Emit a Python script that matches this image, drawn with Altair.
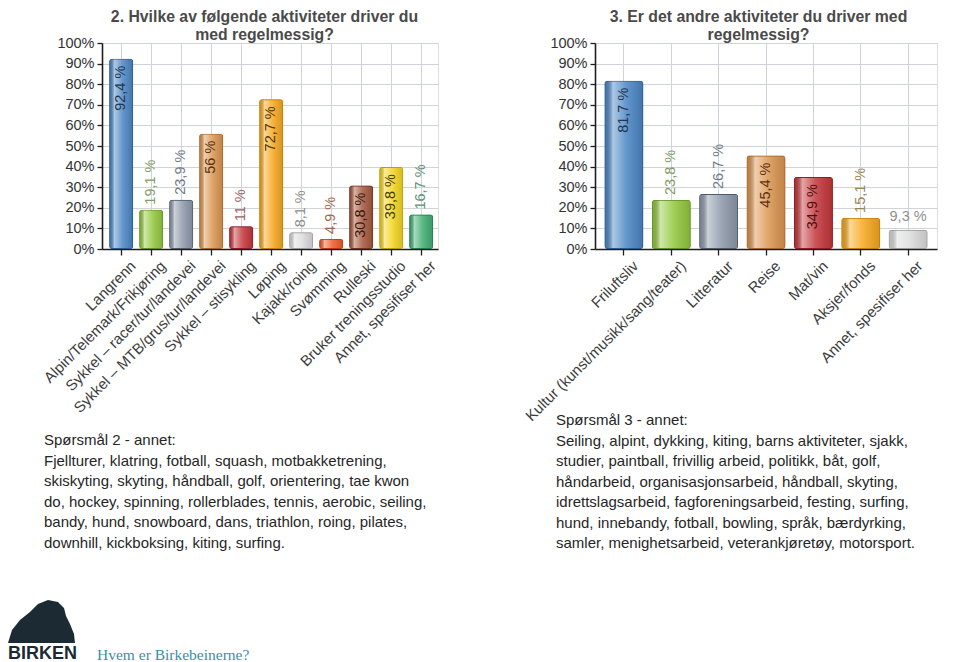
import altair as alt
import pandas as pd

# ---------------- data ----------------
q2_activities = [
    "Langrenn",
    "Alpin/Telemark/Frikjøring",
    "Sykkel – racer/tur/landevei",
    "Sykkel – MTB/grus/tur/landevei",
    "Sykkel – stisykling",
    "Løping",
    "Kajakk/roing",
    "Svømming",
    "Rulleski",
    "Bruker treningsstudio",
    "Annet, spesifiser her",
]
q2_percent = [92.4, 19.1, 23.9, 56, 11, 72.7, 8.1, 4.9, 30.8, 39.8, 16.7]

q3_activities = [
    "Friluftsliv",
    "Kultur (kunst/musikk/sang/teater)",
    "Litteratur",
    "Reise",
    "Mat/vin",
    "Aksjer/fonds",
    "Annet, spesifiser her",
]
q3_percent = [81.7, 23.8, 26.7, 45.4, 34.9, 15.1, 9.3]

y_ticks = [0, 10, 20, 30, 40, 50, 60, 70, 80, 90, 100]

q2_title = ["2. Hvilke av følgende aktiviteter driver du", "med regelmessig?"]
q3_title = ["3. Er det andre aktiviteter du driver med", "regelmessig?"]

q2_note = [
    "Spørsmål 2 - annet:",
    "Fjellturer, klatring, fotball, squash, motbakketrening,",
    "skiskyting, skyting, håndball, golf, orientering, tae kwon",
    "do, hockey, spinning, rollerblades, tennis, aerobic, seiling,",
    "bandy, hund, snowboard, dans, triathlon, roing, pilates,",
    "downhill, kickboksing, kiting, surfing.",
]
q3_note = [
    "Spørsmål 3 - annet:",
    "Seiling, alpint, dykking, kiting, barns aktiviteter, sjakk,",
    "studier, paintball, frivillig arbeid, politikk, båt, golf,",
    "håndarbeid, organisasjonsarbeid, håndball, skyting,",
    "idrettslagsarbeid, fagforeningsarbeid, festing, surfing,",
    "hund, innebandy, fotball, bowling, språk, bærdyrking,",
    "samler, menighetsarbeid, veterankjøretøy, motorsport.",
]
logo_word = "BIRKEN"
footer_link = "Hvem er Birkebeinerne?"

# ---------------- styles ----------------
FONT = "Liberation Sans"
FILL = ["#4a86c5", "#93c83e", "#8d99ab", "#dc9550", "#c4363b", "#f7a81e",
        "#dcdcdc", "#f05a28", "#a5573d", "#f3d51e", "#3fae73"]
EDGE = ["#2c5a8c", "#5e8f22", "#4f5a6a", "#a5652a", "#8a1e22", "#c27c08",
        "#9a9a9a", "#b53a12", "#6e3322", "#b89e08", "#23784c"]
TEXT_IN = ["#22364d", "#3c5a1c", "#2f3845", "#5a3310", "#4a1214", "#4f3606",
           "#555555", "#5a200a", "#3a1a10", "#4a400a", "#18402a"]
TEXT_OUT = ["#5c7ea0", "#7f9c68", "#6f7a88", "#a07a5a", "#9a6464", "#9a8655",
            "#8f8f8f", "#9a6a4a", "#7a5a4a", "#8a8450", "#5a9078"]
GRID = "#d0d4d9"
INSIDE_MIN = 28

gloss = alt.LinearGradient(
    gradient="linear", x1=0, x2=1, y1=0, y2=0,
    stops=[
        alt.GradientStop(color="rgba(0,0,0,0.10)", offset=0),
        alt.GradientStop(color="rgba(255,255,255,0.55)", offset=0.22),
        alt.GradientStop(color="rgba(255,255,255,0.15)", offset=0.55),
        alt.GradientStop(color="rgba(0,0,0,0.12)", offset=1),
    ],
)

one_row = alt.Data(values=[{}])


def panel(cats, vals, title_lines, title_x, note_lines, note_x, note_y,
          band_inner, band_align, flat=()):
    n = len(cats)
    df = pd.DataFrame({
        "cat": cats, "val": vals,
        "fill": FILL[:n], "edge": EDGE[:n],
        "tin": TEXT_IN[:n], "tout": TEXT_OUT[:n],
        "flat": [c in flat for c in cats],
    })
    x = alt.X("cat:N", sort=cats,
              scale=alt.Scale(paddingInner=band_inner, paddingOuter=0.2, align=band_align),
              axis=alt.Axis(title=None, labelAngle=-45, labelAlign="right",
                            labelBaseline="top", labelFont=FONT, labelFontSize=15,
                            labelColor="#3d3d3d", labelLimit=0, labelOverlap=False,
                            labelPadding=3, labelOffset=7, tickSize=6, tickColor="#1e1e1e",
                            tickWidth=1.3, domainColor="#1e1e1e", domainWidth=1.6,
                            grid=True, gridColor=GRID, gridWidth=1))
    y = alt.Y("val:Q", scale=alt.Scale(domain=[0, 100], nice=False),
              axis=alt.Axis(title=None, values=y_ticks, labelExpr="datum.value + '%'",
                            labelFont=FONT, labelFontSize=14.5, labelColor="#333333",
                            labelPadding=3, tickSize=5, tickColor="#1e1e1e",
                            tickWidth=1.3, domainColor="#1e1e1e", domainWidth=1.6,
                            grid=True, gridColor=GRID, gridWidth=1))
    base = alt.Chart(df).encode(x=x, y=y).transform_calculate(
        lbl="replace(format(datum.val, '.1~f'), '.', ',') + ' %'")

    bars = base.mark_bar(cornerRadius=3).encode(fill=alt.Fill("fill:N", scale=None))
    shine = base.mark_bar(cornerRadius=3, fill=gloss)
    outline = base.mark_bar(cornerRadius=3, fillOpacity=0, strokeWidth=1.8).encode(
        stroke=alt.Stroke("edge:N", scale=None))

    tkw = dict(font=FONT, fontSize=14.5, angle=270, baseline="middle")
    inside = base.transform_filter(alt.datum.val >= INSIDE_MIN).mark_text(
        align="right", dx=-7, **tkw).encode(
        text="lbl:N", fill=alt.Fill("tin:N", scale=None))
    outside = base.transform_filter(
        (alt.datum.val < INSIDE_MIN) & (alt.datum.flat == False)).mark_text(
        align="left", dx=5, **tkw).encode(
        text="lbl:N", fill=alt.Fill("tout:N", scale=None))
    flat_lbl = base.transform_filter(alt.datum.flat == True).mark_text(
        align="center", baseline="bottom", dy=-6, font=FONT, fontSize=14.5).encode(
        text="lbl:N", fill=alt.Fill("tout:N", scale=None))

    title = alt.Chart(one_row).mark_text(
        text=title_lines, font=FONT, fontSize=15.8, fontWeight="bold",
        color="#4a4a4a", align="center", baseline="alphabetic", lineHeight=18,
    ).encode(x=alt.value(title_x), y=alt.value(-21.5))
    note = alt.Chart(one_row).mark_text(
        text=note_lines, font=FONT, fontSize=15, color="#262626",
        align="left", baseline="alphabetic", lineHeight=20.5,
    ).encode(x=alt.value(note_x), y=alt.value(note_y))

    return [bars, shine, outline, inside, outside, flat_lbl, title, note]


left_layers = panel(q2_activities, q2_percent, q2_title, 162.5, q2_note, -58, 402,
                    band_inner=0.2, band_align=0.6)
right_layers = panel(q3_activities, q3_percent, q3_title, 163.5, q3_note, -39, 382,
                     band_inner=0.18, band_align=0.5, flat=("Annet, spesifiser her",))

# footer logo (left panel coordinates)
logo_shape = ("M -0.957 0.614 L -0.843 0.243 L -0.614 -0.043 L -0.329 -0.271 "
              "L -0.1 -0.5 L 0.186 -0.614 L 0.471 -0.557 L 0.643 -0.386 L 0.7 -0.157 "
              "L 0.814 0.071 L 0.929 0.357 L 0.957 0.614 Z")
logo_mark = alt.Chart(one_row).mark_point(
    shape=logo_shape, size=4900, filled=True, color="#1c2b33", opacity=1
).encode(x=alt.value(-60.5), y=alt.value(578.5))
logo_text = alt.Chart(one_row).mark_text(
    text=logo_word, font=FONT, fontSize=18, fontWeight="bold", color="#1c2b33",
    align="left", baseline="alphabetic",
).encode(x=alt.value(-94), y=alt.value(616))
link_text = alt.Chart(one_row).mark_text(
    text=footer_link, font="Liberation Serif", fontSize=15.5, color="#3a8fa3",
    align="left", baseline="alphabetic",
).encode(x=alt.value(-5), y=alt.value(617))

left = alt.layer(*left_layers, logo_mark, logo_text,
                 link_text).properties(width=336, height=206)
right = alt.layer(*right_layers).properties(width=342, height=206)

chart = alt.hconcat(left, right, spacing=157, bounds="flush").properties(
    autosize=alt.AutoSizeParams(type="none"),
    padding={"left": 94, "top": 35, "right": 850, "bottom": 619},
    background="white",
).configure_view(fill="#e8ebef", stroke="#8c8c8c", strokeWidth=1.5).configure(font=FONT)

chart.save("out.html", embed_options={"renderer": "svg", "actions": False})
